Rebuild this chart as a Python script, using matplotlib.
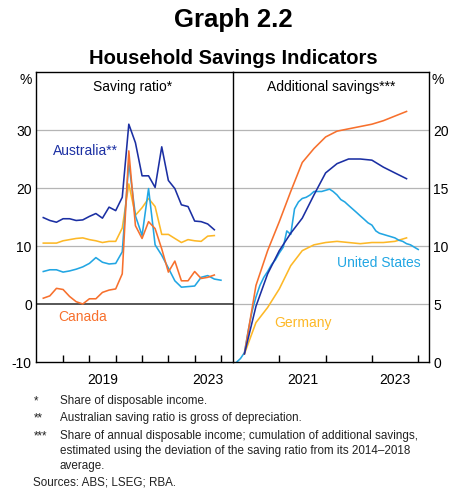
import matplotlib
matplotlib.use("Agg")
import matplotlib.pyplot as plt
import pandas as pd

plt.rcParams['font.family'] = ['Liberation Sans', 'DejaVu Sans']

# ---------------- data ----------------
# Saving ratio (% of disposable income), quarterly from 2017 Q1
aus_ratio = [14.9, 14.4, 14.1, 14.7, 14.7, 14.4, 14.5, 15.1, 15.6, 14.8, 16.7, 16.1, 18.4,
             31.0, 27.8, 22.1, 22.1, 20.1, 27.1, 21.3, 19.9, 17.1, 16.8, 14.3, 14.2, 13.8, 12.8]
can_ratio = [1.0, 1.4, 2.7, 2.5, 1.3, 0.4, 0.0, 0.9, 0.9, 2.0, 2.4, 2.6, 5.2,
             26.4, 13.5, 11.3, 14.2, 13.0, 9.5, 5.5, 7.4, 4.0, 4.0, 5.6, 4.4, 4.6, 5.0]
us_ratio = [5.6, 5.9, 5.9, 5.5, 5.7, 6.0, 6.4, 7.0, 8.0, 7.2, 6.9, 7.0, 9.0,
            24.4, 15.2, 11.8, 19.9, 10.2, 8.4, 6.2, 4.0, 2.9, 3.0, 3.1, 4.6, 4.9, 4.3, 4.1]
ger_ratio = [10.5, 10.5, 10.5, 10.9, 11.1, 11.3, 11.4, 11.1, 10.9, 10.6, 10.8, 10.8, 13.1,
             20.7, 15.3, 16.6, 18.2, 16.8, 12.0, 12.0, 11.3, 10.6, 11.1, 10.9, 10.8, 11.7, 11.8]

# Additional savings (% of annual disposable income), quarterly from 2020 Q1
aus_add = [0.7, 4.8, 7.6, 9.6, 11.1, 12.4, 14.4, 16.3, 17.1, 17.5, 17.5, 17.4, 16.8, 16.3, 15.8]
can_add = [0.7, 6.6, 9.6, 12.1, 14.7, 17.2, 18.4, 19.4, 19.9, 20.1, 20.3, 20.5, 20.8, 21.2, 21.6]
ger_add = [0.7, 3.4, 4.7, 6.3, 8.3, 9.6, 10.1, 10.3, 10.4, 10.3, 10.2, 10.3, 10.3, 10.4, 10.7]
# United States, monthly from Jan 2020
us_add = [0.0, 0.3, 0.8, 2.7, 4.4, 5.6, 6.6, 7.3, 7.8, 8.4, 8.8, 9.4,
          9.9, 11.3, 11.0, 13.2, 13.8, 14.1, 14.2, 14.4, 14.7, 14.7, 14.7, 14.8,
          14.9, 14.7, 14.4, 14.0, 13.8, 13.5, 13.2, 12.9, 12.6, 12.3, 12.0, 11.8,
          11.3, 11.1, 11.0, 10.9, 10.8, 10.7, 10.5, 10.4, 10.2, 10.1, 9.9, 9.7]

left_ticklabels = ['2019', '2023']
right_ticklabels = ['2021', '2023']

C_AUS = '#1b2fa3'
C_US = '#22a6e3'
C_CAN = '#f7702d'
C_GER = '#fdb827'

# ---------------- figure ----------------
W, H = 452, 489
fig = plt.figure(figsize=(W / 100, H / 100), dpi=100)


def rect(x0, y0, x1, y1):
    return [x0 / W, 1 - y1 / H, (x1 - x0) / W, (y1 - y0) / H]


axL = fig.add_axes(rect(36, 73, 233, 363))
axR = fig.add_axes(rect(233, 73, 429, 363))
axR.patch.set_alpha(0)

q_left = pd.date_range('2017-03-31', periods=len(aus_ratio), freq='QE')
q_left_us = pd.date_range('2017-03-31', periods=len(us_ratio), freq='QE')
q_right = pd.date_range('2020-03-31', periods=len(aus_add), freq='QE')
m_right = pd.date_range('2020-01-31', periods=len(us_add), freq='ME')

LW = 1.15
GRID = '#b5b5b5'

# left panel
for v in [10, 20, 30]:
    axL.axhline(v, color=GRID, lw=0.9, zorder=1)
axL.axhline(0, color='#3a3a3a', lw=1.2, zorder=1)
axL.plot(q_left, ger_ratio, color=C_GER, lw=LW, zorder=3)
axL.plot(q_left_us, us_ratio, color=C_US, lw=LW, zorder=3)
axL.plot(q_left, can_ratio, color=C_CAN, lw=LW, zorder=4)
axL.plot(q_left, aus_ratio, color=C_AUS, lw=LW, zorder=5)
axL.set_ylim(-10, 40)
axL.set_yticks([-10, 0, 10, 20, 30])
axL.set_yticklabels(['-10', '0', '10', '20', '30'])
axL.set_xlim(pd.Timestamp('2016-12-20'), pd.Timestamp('2024-06-15'))
axL.set_xticks([pd.Timestamp(f'{y}-01-01') for y in range(2018, 2025)])
axL.set_xticklabels([])
axL.set_xticks([pd.Timestamp(f'{y}-07-01') for y in left_ticklabels], minor=True)
axL.set_xticklabels(left_ticklabels, minor=True)

# right panel
for v in [5, 10, 15, 20]:
    axR.axhline(v, color=GRID, lw=0.9, zorder=1)
axR.plot(q_right, ger_add, color=C_GER, lw=LW, zorder=3)
axR.plot(m_right, us_add, color=C_US, lw=LW, zorder=3)
axR.plot(q_right, can_add, color=C_CAN, lw=LW, zorder=4)
axR.plot(q_right, aus_add, color=C_AUS, lw=LW, zorder=5)
axR.set_ylim(0, 25)
axR.set_yticks([0, 5, 10, 15, 20])
axR.yaxis.tick_right()
axR.set_xlim(pd.Timestamp('2020-01-01'), pd.Timestamp('2024-03-25'))
axR.set_xticks([pd.Timestamp(f'{y}-01-01') for y in range(2021, 2025)])
axR.set_xticklabels([])
axR.set_xticks([pd.Timestamp(f'{y}-07-01') for y in right_ticklabels], minor=True)
axR.set_xticklabels(right_ticklabels, minor=True)

for ax in (axL, axR):
    for s in ax.spines.values():
        s.set_color('black')
        s.set_linewidth(1.0)
        s.set_zorder(6)
    ax.tick_params(axis='y', length=0, pad=3, labelsize=10, colors='black')
    ax.tick_params(axis='x', which='major', direction='in', length=5, width=1.0)
    ax.tick_params(axis='x', which='minor', length=0, pad=7, labelsize=10)
axL.spines['right'].set_visible(False)
axR.tick_params(axis='y', labelleft=False, labelright=True)

# panel titles
axL.text(0.49, 0.952, 'Saving ratio*', transform=axL.transAxes, ha='center', va='center', fontsize=10)
axR.text(0.5, 0.952, 'Additional savings***', transform=axR.transAxes, ha='center', va='center', fontsize=10)

# series labels
axL.text(0.085, 0.732, 'Australia**', transform=axL.transAxes, color=C_AUS, fontsize=10, va='center')
axL.text(0.113, 0.160, 'Canada', transform=axL.transAxes, color=C_CAN, fontsize=10, va='center')
axR.text(0.532, 0.346, 'United States', transform=axR.transAxes, color=C_US, fontsize=10, va='center')
axR.text(0.209, 0.137, 'Germany', transform=axR.transAxes, color=C_GER, fontsize=10, va='center')

# % labels
fig.text(26 / W, 1 - 80 / H, '%', ha='center', va='center', fontsize=10)
fig.text(438 / W, 1 - 80 / H, '%', ha='center', va='center', fontsize=10)

# titles
fig.text(233 / W, 1 - 20 / H, 'Graph 2.2', ha='center', va='center', fontsize=18.5, fontweight='bold')
fig.text(233 / W, 1 - 59 / H, 'Household Savings Indicators', ha='center', va='center',
         fontsize=14.5, fontweight='bold')

# footnotes
FS = 8.4
notes = [
    (401, '*', 'Share of disposable income.'),
    (418, '**', 'Australian saving ratio is gross of depreciation.'),
    (436, '***', 'Share of annual disposable income; cumulation of additional savings,'),
    (451, '', 'estimated using the deviation of the saving ratio from its 2014\u20132018'),
    (466, '', 'average.'),
]
for y, mark, txt in notes:
    if mark:
        fig.text(34 / W, 1 - y / H, mark, ha='left', va='center', fontsize=FS, color='#222222')
    fig.text(60 / W, 1 - y / H, txt, ha='left', va='center', fontsize=FS, color='#222222')
fig.text(33 / W, 1 - 483 / H, 'Sources: ABS; LSEG; RBA.', ha='left', va='center', fontsize=FS, color='#222222')

fig.savefig('out.png', dpi=100)
